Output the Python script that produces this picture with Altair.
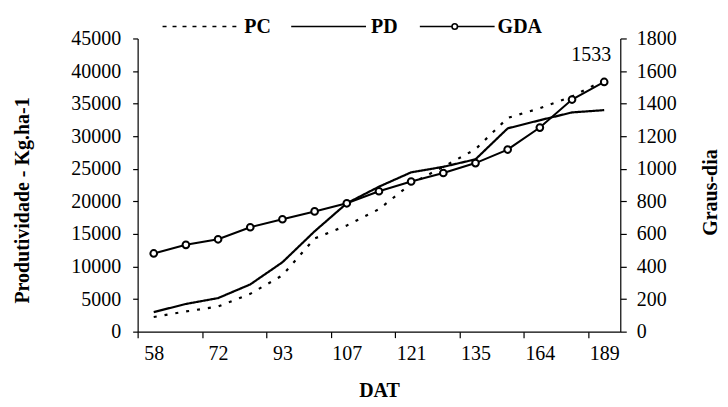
import json
import altair as alt
import pandas as pd

# ---- data ----
dat = ["58", "65", "72", "79", "93", "100", "107", "114", "121", "128", "135", "150", "164", "177", "189"]
pc = [2250, 3100, 3850, 5800, 8650, 14300, 16300, 18800, 22700, 25300, 28000, 32800, 34300, 36100, 38600]
pd_vals = [3000, 4250, 5150, 7250, 10650, 15400, 19700, 22250, 24450, 25300, 26450, 31200, 32450, 33650, 34000]
gda = [480, 533, 567, 641, 690, 738, 788, 862, 922, 974, 1035, 1118, 1253, 1425, 1533]
series_names = ["PC", "PD", "GDA"]

idx = list(range(len(dat)))
df = pd.DataFrame({"idx": idx, "DAT": dat, "PC": pc, "PD": pd_vals, "GDA": gda})

FONT = "Liberation Serif"
W, H = 484, 294
n = len(dat)
cat_w = W / n

tick_vals = [i - 0.5 for i in range(0, n, 2)]
tick_labels = [dat[i] for i in range(0, n, 2)]
label_expr = f"{json.dumps(tick_labels)}[round((datum.value + 0.5) / 2)]"

x_enc = alt.X(
    "idx:Q",
    scale=alt.Scale(domain=[-0.5, n - 0.5], nice=False, zero=False),
    axis=alt.Axis(
        title="DAT",
        values=tick_vals,
        labelExpr=label_expr,
        labelOffset=cat_w / 2,
        labelFlush=False,
        labelOverlap=False,
        tickSize=6,
        labelPadding=6,
        titlePadding=17,
    ),
)

# ---- left axis: PC and PD ----
left_scale = alt.Scale(domain=[0, 45000], nice=False, zero=True)
left = (
    alt.Chart(df)
    .transform_fold(["PC", "PD"], as_=["series", "value"])
    .mark_line(color="black", strokeWidth=2.2)
    .encode(
        x=x_enc,
        y=alt.Y(
            "value:Q",
            scale=left_scale,
            axis=alt.Axis(
                title="Produtividade - Kg.ha-1",
                values=list(range(0, 45001, 5000)),
                format="d",
                tickSize=5,
                labelPadding=12,
                titleX=-115,
                titleY=162,
                titleBaseline="middle",
            ),
        ),
        strokeDash=alt.StrokeDash(
            "series:N",
            scale=alt.Scale(domain=["PC", "PD"], range=[[3, 8], [1, 0]]),
            legend=None,
        ),
        detail="series:N",
    )
)

# ---- right axis: GDA ----
right_scale = alt.Scale(domain=[0, 1800], nice=False, zero=True)
right_y = alt.Y(
    "GDA:Q",
    scale=right_scale,
    axis=alt.Axis(
        title="Graus-dia",
        orient="right",
        values=list(range(0, 1801, 200)),
        format="d",
        tickSize=6,
        labelPadding=10,
        titleAngle=270,
        titleX=90,
        titleY=154,
        titleBaseline="middle",
    ),
)
gda_line = alt.Chart(df).mark_line(color="black", strokeWidth=2).encode(x=x_enc, y=right_y)
gda_pts = (
    alt.Chart(df)
    .mark_point(shape="circle", filled=True, fill="white", stroke="black", strokeWidth=2, size=45, opacity=1)
    .encode(x=x_enc, y=right_y)
)
gda_text = (
    alt.Chart(df)
    .transform_filter(alt.datum.idx == n - 1)
    .mark_text(font=FONT, fontSize=20, color="black", align="right", baseline="alphabetic", dx=7, dy=-21)
    .encode(x=x_enc, y=right_y, text=alt.Text("GDA:Q", format="d"))
)
right = alt.layer(gda_line, gda_pts, gda_text)

# ---- legend drawn at the top ----
ld = pd.DataFrame({"a": [0]})
LY = 26 - 38  # legend line y relative to plot top
leg_pc = alt.Chart(ld).mark_rule(color="black", strokeWidth=1.6, strokeDash=[4, 6]).encode(
    x=alt.value(163 - 138), x2=alt.value(240 - 138), y=alt.value(LY)
)
leg_pd = alt.Chart(ld).mark_rule(color="black", strokeWidth=1.6).encode(
    x=alt.value(292 - 138), x2=alt.value(367 - 138), y=alt.value(LY)
)
leg_gda = alt.Chart(ld).mark_rule(color="black", strokeWidth=1.6).encode(
    x=alt.value(421 - 138), x2=alt.value(496 - 138), y=alt.value(LY)
)
leg_pt = alt.Chart(ld).mark_point(
    shape="circle", filled=True, fill="white", stroke="black", strokeWidth=1.6, size=30, opacity=1
).encode(x=alt.value(456 - 138), y=alt.value(LY))
leg_txt = alt.Chart(pd.DataFrame({"t": series_names, "px": [245 - 138, 372 - 138, 499 - 138]})).mark_text(
    font=FONT, fontSize=20, fontWeight="bold", color="black", align="left", baseline="middle"
).encode(x=alt.X("px:Q", scale=None), y=alt.value(LY + 1), text="t:N")

legend = alt.layer(leg_pc, leg_pd, leg_gda, leg_pt, leg_txt)

chart = (
    alt.layer(left, right, legend)
    .resolve_scale(y="independent")
    .properties(
        width=W,
        height=H,
        autosize=alt.AutoSizeParams(type="none"),
        padding={"left": 130, "top": 30, "right": 100, "bottom": 72},
        background="white",
    )
    .configure_view(stroke=None)
    .configure_axis(
        grid=False,
        domainColor="black",
        domainWidth=1.2,
        tickColor="black",
        tickWidth=1.2,
        labelFont=FONT,
        labelFontSize=20,
        labelColor="black",
        titleFont=FONT,
        titleFontSize=20,
        titleFontWeight="bold",
        titleColor="black",
    )
)

chart.save("out.html", embed_options={"renderer": "svg", "actions": False})
